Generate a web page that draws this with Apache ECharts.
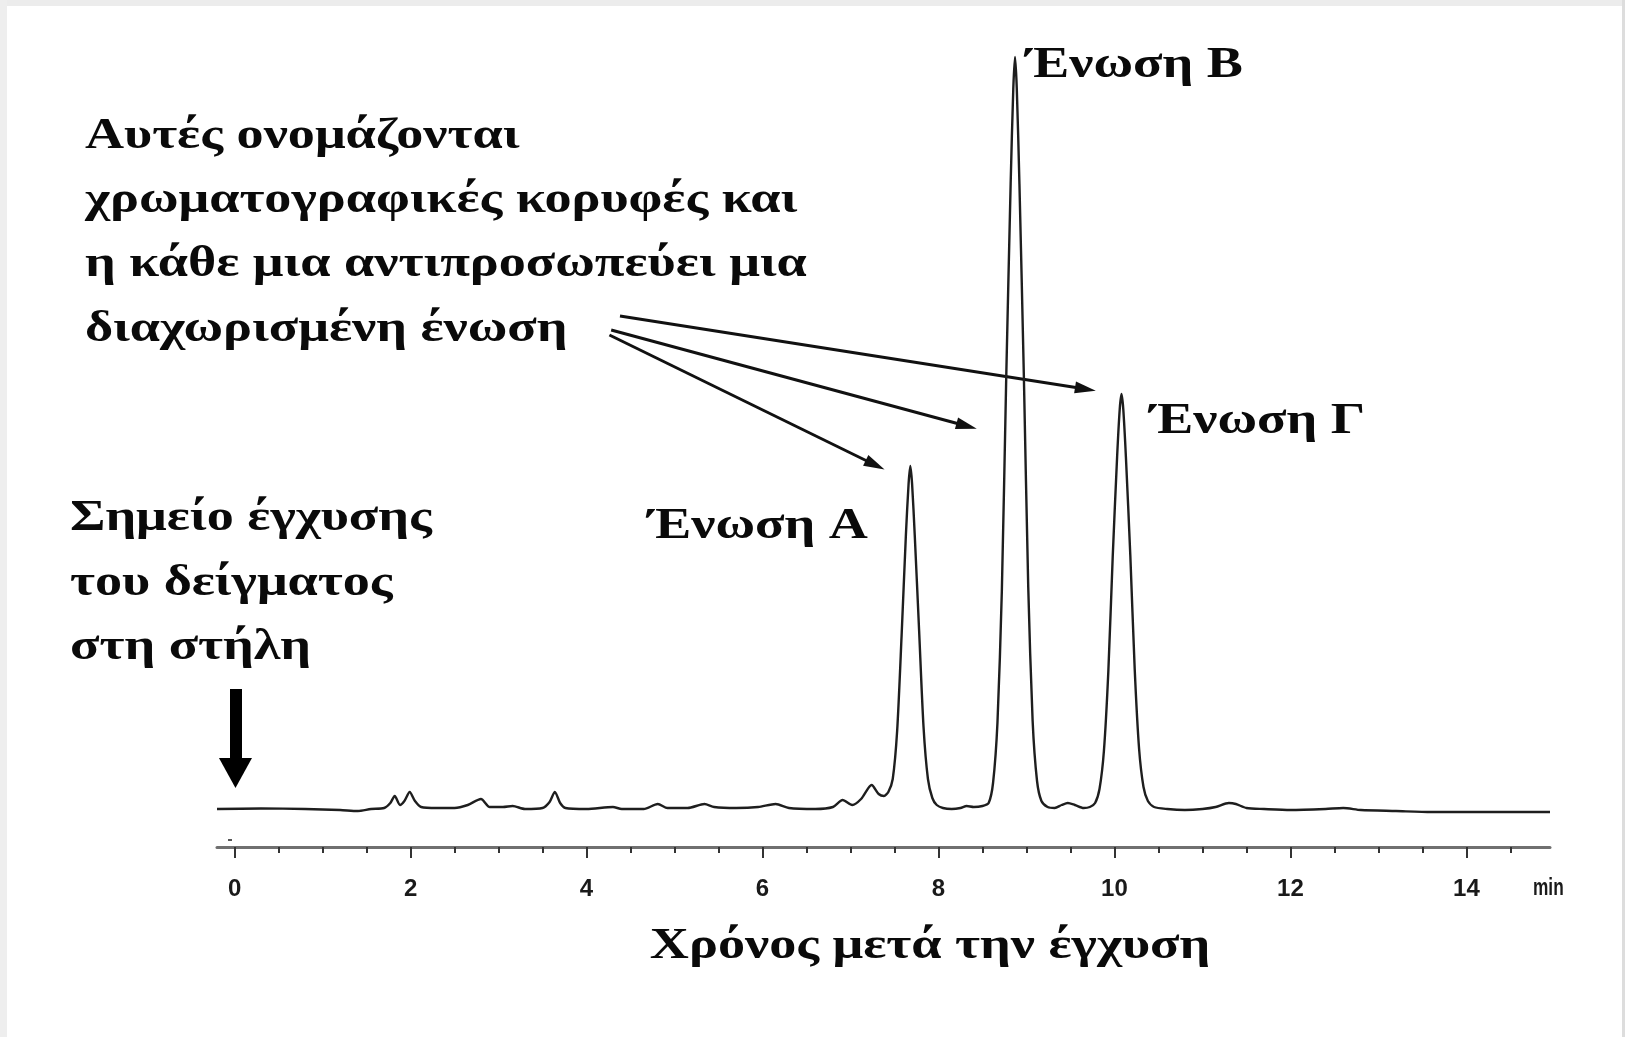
<!DOCTYPE html>
<html>
<head>
<meta charset="utf-8">
<script src="https://cdn.jsdelivr.net/npm/echarts@6/dist/echarts.min.js"></script>
<style>
html,body{margin:0;padding:0;background:#fff;}
#chart{width:1625px;height:1037px;}
</style>
</head>
<body>
<div id="chart"></div>
<script>
// ---- data (retention time in min, detector signal in arbitrary units) ----
const timeMin = [
  -0.2, 0.3, 0.8, 1.2, 1.4, 1.55, 1.7, 1.77, 1.82, 1.88, 1.93, 1.99, 2.05, 2.12, 2.3, 2.5,
  2.65, 2.8, 2.9, 3.05, 3.16, 3.3, 3.5, 3.58, 3.64, 3.7, 3.76, 4.0, 4.3, 4.4, 4.65, 4.81,
  4.92, 5.15, 5.34, 5.45, 5.7, 5.95, 6.15, 6.3, 6.6, 6.8, 6.91, 7.02, 7.12, 7.24, 7.32, 7.38,
  7.43, 7.48, 7.53, 7.58, 7.63, 7.66, 7.68, 7.70, 7.73, 7.78, 7.83, 7.88, 7.93, 7.98, 8.05,
  8.15, 8.25, 8.32, 8.40, 8.50,
  8.57, 8.62, 8.67, 8.72, 8.77, 8.82, 8.85, 8.87, 8.89, 8.92, 8.97, 9.02, 9.07, 9.12, 9.17,
  9.24, 9.32, 9.40, 9.47, 9.55, 9.65, 9.72,
  9.78, 9.83, 9.88, 9.93, 9.98, 10.03, 10.06, 10.08, 10.10, 10.13, 10.18, 10.23, 10.28, 10.33,
  10.38, 10.45, 10.6, 10.8, 11.0, 11.15, 11.3, 11.38, 11.5, 11.7, 12.0, 12.4, 12.6, 12.8,
  13.2, 13.6, 14.0, 14.5, 14.95
];
const signal = [
  0, 0.5, 0, -1, -2, 0, 1, 6, 13, 4, 8, 17, 8, 2, 1, 1,
  4, 10, 2, 2, 3, 0, 1, 7, 17, 6, 1, 0, 2, 0, 0, 5,
  1, 1, 5, 2, 1, 2, 5, 1, 0, 2, 9, 4, 10, 24, 15, 13,
  17, 30, 78, 172, 275, 325, 343, 325, 274, 178, 82, 30, 11, 4, 1,
  0, 1, 3, 2, 3,
  6, 26, 86, 218, 432, 625, 720, 752, 720, 625, 434, 222, 88, 28, 8,
  2, 1, 4, 6, 4, 1, 2,
  6, 20, 58, 137, 252, 352, 400, 415, 400, 352, 254, 140, 60, 22,
  8, 2, 0, -1, 0, 2, 6, 5, 1, 0, -1, 0, 1, -1,
  -2, -3, -3, -3, -3
];
const majorTicks = [0, 2, 4, 6, 8, 10, 12, 14];
const minorTicks = [0, 0.5, 1, 1.5, 2, 2.5, 3, 3.5, 4, 4.5, 5, 5.5, 6, 6.5, 7, 7.5,
  8, 8.5, 9, 9.5, 10, 10.5, 11, 11.5, 12, 12.5, 13, 13.5, 14, 14.5];
const axisUnit = 'min';

// annotation arrows (data coordinates: [time, signal])
const pointerArrows = [
  [[4.38, 493], [9.67, 420]],
  [[4.28, 479], [8.32, 383]],
  [[4.26, 474], [7.28, 344]]
];
const injectionArrow = [[0.01, 120], [0.01, 36]];

const seriesData = timeMin.map((t, i) => [t, signal[i]]);

const serif = '"Liberation Serif", "Times New Roman", serif';
const FS = 44;
const SX = 1.23;
function txt(text, x, y, align) {
  return {
    type: 'text', x: x, y: y, z: 50, scaleX: SX,
    style: {
      text: text, fill: '#0a0a0a',
      font: 'bold ' + FS + 'px ' + serif,
      textAlign: align || 'left', textVerticalAlign: 'middle'
    }
  };
}
const narrow = '"Liberation Sans Narrow", "Liberation Sans", Arial, sans-serif';

const chart = echarts.init(document.getElementById('chart'), null, {renderer: 'canvas'});
const option = {
  backgroundColor: '#ffffff',
  animation: false,
  grid: {left: 217, right: 75, top: 39, bottom: 190, containLabel: false},
  xAxis: [
    {
      type: 'value', min: -0.2, max: 14.95, position: 'bottom',
      axisLine: {show: true, onZero: false, lineStyle: {color: '#707070', width: 3}},
      axisTick: {show: true, customValues: majorTicks, length: 11, lineStyle: {color: '#333', width: 2}},
      axisLabel: {
        customValues: majorTicks, margin: 30,
        color: '#1a1a1a', fontSize: 24, fontWeight: 'bold', fontFamily: narrow
      },
      splitLine: {show: false}
    },
    {
      type: 'value', min: -0.2, max: 14.95, position: 'bottom', gridIndex: 0,
      axisLine: {show: false, onZero: false},
      axisTick: {show: true, customValues: minorTicks, length: 6, lineStyle: {color: '#333', width: 2}},
      axisLabel: {show: false},
      splitLine: {show: false}
    }
  ],
  yAxis: {type: 'value', min: -38, max: 770, show: false},
  series: [
    {
      type: 'line', xAxisIndex: 0, data: seriesData, showSymbol: false, smooth: 0.25,
      lineStyle: {color: '#1e1e1e', width: 2.4}, silent: true, z: 5,
      markLine: {
        silent: true, animation: false,
        symbol: ['none', 'triangle'], symbolSize: [12, 21],
        label: {show: false},
        lineStyle: {color: '#111', width: 3, type: 'solid'},
        data: pointerArrows.map(a => [{coord: a[0]}, {coord: a[1]}])
      }
    },
    {
      type: 'line', xAxisIndex: 0, data: [], silent: true,
      markLine: {
        silent: true, animation: false,
        symbol: ['none', 'triangle'], symbolSize: [33, 30],
        label: {show: false},
        lineStyle: {color: '#000', width: 12, type: 'solid'},
        data: [[{coord: injectionArrow[0]}, {coord: injectionArrow[1]}]]
      }
    }
  ],
  graphic: [
    // light frame like the reference picture
    {type: 'rect', shape: {x: 0, y: 0, width: 1625, height: 6}, style: {fill: '#ececec'}, z: 1},
    {type: 'rect', shape: {x: 0, y: 0, width: 7, height: 1037}, style: {fill: '#eeeeee'}, z: 1},
    {type: 'rect', shape: {x: 1622, y: 0, width: 3, height: 1037}, style: {fill: '#dddddd'}, z: 1},
    {type: 'rect', shape: {x: 228, y: 839, width: 4, height: 2}, style: {fill: '#555'}, z: 1},
    txt('Αυτές ονομάζονται', 85, 137),
    txt('χρωματογραφικές κορυφές και', 85, 201),
    txt('η κάθε μια αντιπροσωπεύει μια', 85, 265),
    txt('διαχωρισμένη ένωση', 85, 330),
    txt('Σημείο έγχυσης', 70, 519),
    txt('του δείγματος', 70, 584),
    txt('στη στήλη', 70, 648),
    txt('Ένωση Α', 648, 527),
    txt('Ένωση Β', 1026, 66),
    txt('Ένωση Γ', 1150, 422),
    txt('Χρόνος μετά την έγχυση', 930, 947, 'center'),
    {
      type: 'text', x: 1533, y: 889, z: 50, scaleX: 0.75,
      style: {
        text: axisUnit, fill: '#1a1a1a',
        font: 'bold 23px ' + narrow,
        textAlign: 'left', textVerticalAlign: 'middle'
      }
    }
  ]
};
chart.setOption(option);
</script>
</body>
</html>
